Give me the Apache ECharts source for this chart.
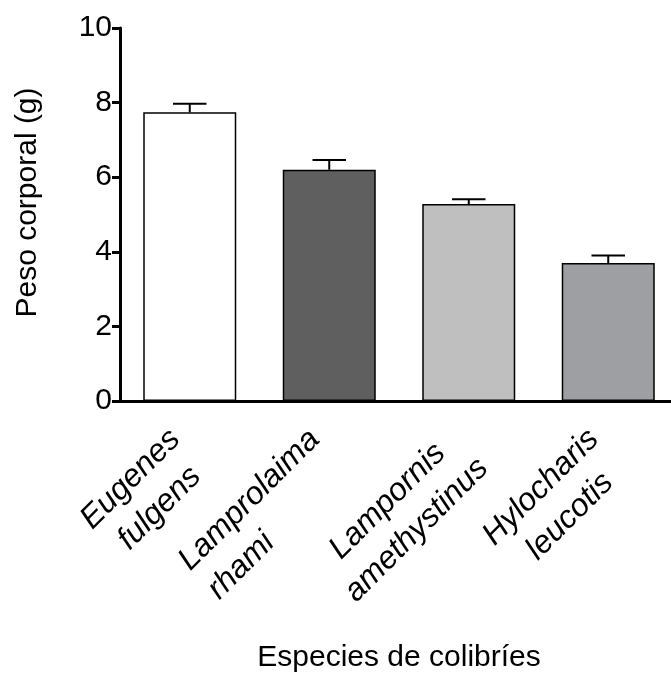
<!DOCTYPE html>
<html>
<head>
<meta charset="utf-8">
<script src="https://cdn.jsdelivr.net/npm/echarts@6/dist/echarts.min.js"></script>
<style>
  html, body { margin: 0; padding: 0; background: #fff; }
  #chart { width: 671px; height: 673px; }
</style>
</head>
<body>
<div id="chart"></div>
<script>
// Body mass of four hummingbird species (mean ± SEM)
const species = [
  ['Eugenes', 'fulgens'],
  ['Lamprolaima', 'rhami'],
  ['Lampornis', 'amethystinus'],
  ['Hylocharis', 'leucotis']
];
const meanMass = [7.74, 6.20, 5.28, 3.70];
const semMass = [0.23, 0.26, 0.13, 0.20];
const barColors = ['#ffffff', '#5f5f5f', '#bfbfbf', '#9e9fa3'];
const yTicks = [0, 2, 4, 6, 8, 10];
// how the second line of each species name sits under the first
const secondLineAlign = ['c', 'l', 'c', 'c'];

const FONT = "'Liberation Sans', Arial, Helvetica, sans-serif";
const categories = species.map(s => s.join('\n'));

const labelStyle = { fontFamily: FONT, fontSize: 32, fontStyle: 'italic', color: '#000', lineHeight: 41 };

const chart = echarts.init(document.getElementById('chart'), null, { renderer: 'canvas' });

chart.setOption({
  animation: false,
  backgroundColor: '#ffffff',
  grid: { left: 120, right: -7, top: 28, bottom: 272, containLabel: false, outerBoundsMode: 'none' },
  xAxis: {
    type: 'category',
    data: categories,
    name: 'Especies de colibríes',
    nameLocation: 'middle',
    nameGap: 242,
    nameMoveOverlap: false,
    nameTextStyle: { fontFamily: FONT, fontSize: 30, color: '#000' },
    axisLine: { lineStyle: { color: '#000', width: 3 } },
    axisTick: { alignWithLabel: true, length: 11, lineStyle: { color: '#000', width: 3 } },
    axisLabel: {
      interval: 0,
      rotate: 45,
      margin: 48,
      formatter: (v, i) => {
        const lines = v.split('\n');
        return '{c|' + lines[0] + '}\n{' + secondLineAlign[i] + '|' + lines[1] + '}';
      },
      rich: {
        c: Object.assign({ align: 'center' }, labelStyle),
        l: Object.assign({ align: 'left' }, labelStyle)
      }
    }
  },
  yAxis: {
    type: 'value',
    min: yTicks[0],
    max: yTicks[yTicks.length - 1],
    interval: yTicks[1] - yTicks[0],
    name: 'Peso corporal (g)',
    nameLocation: 'middle',
    nameGap: 77,
    nameRotate: 90,
    nameMoveOverlap: false,
    nameTextStyle: { fontFamily: FONT, fontSize: 30, color: '#000', padding: [0, 0, 0, 24] },
    axisLine: { show: true, lineStyle: { color: '#000', width: 3 } },
    axisTick: { show: true, length: 8, lineStyle: { color: '#000', width: 3 } },
    axisLabel: { fontFamily: FONT, fontSize: 30, color: '#000', margin: 8 },
    splitLine: { show: false }
  },
  series: [
    {
      type: 'bar',
      barWidth: 93,
      data: meanMass.map((v, i) => ({
        value: v,
        itemStyle: { color: barColors[i], borderColor: '#000', borderWidth: 1.5 }
      })),
      z: 2
    },
    {
      // upper error bars with caps
      type: 'custom',
      data: meanMass.map((v, i) => [i, v, v + semMass[i]]),
      renderItem: (params, api) => {
        const base = api.coord([api.value(0), api.value(1)]);
        const top = api.coord([api.value(0), api.value(2)]);
        const half = api.size([1, 0])[0] * 0.12;
        const style = { stroke: '#000', lineWidth: 2 };
        return {
          type: 'group',
          children: [
            { type: 'line', shape: { x1: base[0], y1: base[1], x2: top[0], y2: top[1] }, style },
            { type: 'line', shape: { x1: top[0] - half, y1: top[1], x2: top[0] + half, y2: top[1] }, style }
          ]
        };
      },
      z: 3
    }
  ]
});
</script>
</body>
</html>
